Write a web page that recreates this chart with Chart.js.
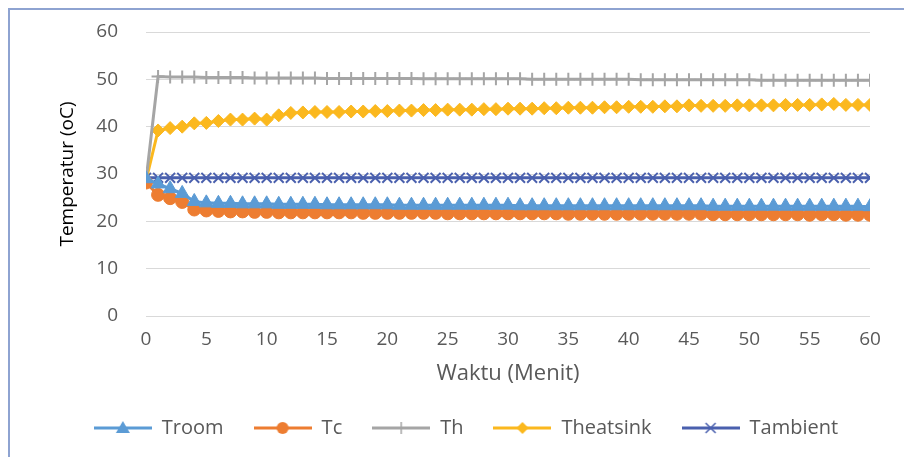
<!DOCTYPE html>
<html>
<head>
<meta charset="utf-8">
<script src="https://cdn.jsdelivr.net/npm/chart.js@4/dist/chart.umd.min.js"></script>
<style>
    html, body { margin: 0; padding: 0; background: #fff; }
    #wrap { width: 904px; height: 457px; position: relative; }
</style>
</head>
<body>
<div id="wrap"><canvas id="chart"></canvas></div>
<script>
// Time axis (minutes)
const minutes = [
    0, 1, 2, 3, 4, 5, 6, 7, 8, 9,
    10, 11, 12, 13, 14, 15, 16, 17, 18, 19,
    20, 21, 22, 23, 24, 25, 26, 27, 28, 29,
    30, 31, 32, 33, 34, 35, 36, 37, 38, 39,
    40, 41, 42, 43, 44, 45, 46, 47, 48, 49,
    50, 51, 52, 53, 54, 55, 56, 57, 58, 59,
    60
];
const xTicks = [0, 5, 10, 15, 20, 25, 30, 35, 40, 45, 50, 55, 60];
const yTicks = [0, 10, 20, 30, 40, 50, 60];

// Series values (deg C)
const troom = [
    29.0, 27.9, 26.9, 25.9, 24.2, 23.9, 23.8, 23.8, 23.7, 23.7,
    23.7, 23.6, 23.6, 23.6, 23.6, 23.5, 23.5, 23.5, 23.5, 23.5,
    23.5, 23.4, 23.4, 23.4, 23.4, 23.4, 23.4, 23.4, 23.4, 23.4,
    23.4, 23.3, 23.3, 23.3, 23.3, 23.3, 23.3, 23.3, 23.3, 23.3,
    23.3, 23.3, 23.3, 23.3, 23.3, 23.3, 23.3, 23.2, 23.2, 23.2,
    23.2, 23.2, 23.2, 23.2, 23.2, 23.2, 23.2, 23.2, 23.2, 23.2,
    23.1
];
const tc = [
    28.2, 25.6, 24.9, 24.1, 22.5, 22.3, 22.2, 22.1, 22.1, 22.0,
    22.0, 21.9, 21.9, 21.9, 21.9, 21.9, 21.9, 21.9, 21.8, 21.8,
    21.8, 21.8, 21.8, 21.8, 21.8, 21.7, 21.7, 21.7, 21.7, 21.7,
    21.7, 21.7, 21.7, 21.7, 21.7, 21.6, 21.6, 21.6, 21.6, 21.6,
    21.6, 21.6, 21.6, 21.6, 21.6, 21.6, 21.6, 21.5, 21.5, 21.5,
    21.5, 21.5, 21.5, 21.5, 21.5, 21.4, 21.5, 21.5, 21.4, 21.4,
    21.4
];
const th = [
    28.6, 50.6, 50.5, 50.5, 50.5, 50.4, 50.4, 50.4, 50.4, 50.3,
    50.3, 50.3, 50.3, 50.3, 50.3, 50.2, 50.2, 50.2, 50.2, 50.2,
    50.2, 50.2, 50.2, 50.1, 50.1, 50.1, 50.1, 50.1, 50.1, 50.1,
    50.1, 50.1, 50.0, 50.0, 50.0, 50.0, 50.0, 50.0, 50.0, 50.0,
    50.0, 49.9, 49.9, 49.9, 49.9, 49.9, 49.9, 49.9, 49.9, 49.9,
    49.9, 49.8, 49.8, 49.8, 49.8, 49.8, 49.8, 49.8, 49.8, 49.8,
    49.8
];
const theatsink = [
    28.6, 39.2, 39.7, 40.0, 40.7, 40.8, 41.2, 41.5, 41.5, 41.7,
    41.5, 42.4, 42.9, 43.0, 43.1, 43.1, 43.1, 43.2, 43.2, 43.3,
    43.3, 43.4, 43.4, 43.5, 43.5, 43.6, 43.6, 43.6, 43.7, 43.7,
    43.8, 43.8, 43.8, 43.9, 43.9, 44.0, 44.0, 44.0, 44.1, 44.1,
    44.2, 44.2, 44.2, 44.3, 44.3, 44.5, 44.4, 44.4, 44.4, 44.5,
    44.5, 44.5, 44.5, 44.6, 44.6, 44.6, 44.7, 44.8, 44.6, 44.6,
    44.6
];
const tambient = [
    29.2, 29.2, 29.2, 29.2, 29.2, 29.2, 29.2, 29.2, 29.2, 29.2,
    29.2, 29.2, 29.2, 29.2, 29.2, 29.2, 29.2, 29.2, 29.2, 29.2,
    29.2, 29.2, 29.2, 29.2, 29.2, 29.2, 29.2, 29.2, 29.2, 29.2,
    29.2, 29.2, 29.2, 29.2, 29.2, 29.2, 29.2, 29.2, 29.2, 29.2,
    29.2, 29.2, 29.2, 29.2, 29.2, 29.2, 29.2, 29.2, 29.2, 29.2,
    29.2, 29.2, 29.2, 29.2, 29.2, 29.2, 29.2, 29.2, 29.2, 29.2,
    29.2
];

const seriesNames = ['Troom', 'Tc', 'Th', 'Theatsink', 'Tambient'];
const seriesValues = [troom, tc, th, theatsink, tambient];
const seriesColors = ['#5B9BD5', '#ED7D31', '#A5A5A5', '#FBB81E', '#4A60AE'];
const seriesMarkers = ['triangle', 'circle', 'cross', 'rectRot', 'crossRot'];
const markerRadius = [8, 6.5, 6.5, 6.5, 7];

const textColor = '#595959';
const fontFamily = '"Open Sans", Lato, sans-serif';

// Small line+marker swatch for the legend (like Excel's)
function legendSwatch(color, marker) {
    const c = document.createElement('canvas');
    c.width = 58; c.height = 16;
    const g = c.getContext('2d');
    g.strokeStyle = color; g.fillStyle = color; g.lineWidth = 3;
    g.beginPath(); g.moveTo(0, 8); g.lineTo(58, 8); g.stroke();
    const cx = 29, cy = 8;
    g.lineWidth = 1.5;
    g.beginPath();
    if (marker === 'triangle') {
        g.moveTo(cx, cy - 7); g.lineTo(cx + 7, cy + 5); g.lineTo(cx - 7, cy + 5); g.closePath(); g.fill();
    } else if (marker === 'circle') {
        g.arc(cx, cy, 6, 0, Math.PI * 2); g.fill();
    } else if (marker === 'cross') {
        g.moveTo(cx, cy - 6); g.lineTo(cx, cy + 6); g.stroke();
    } else if (marker === 'rectRot') {
        g.moveTo(cx, cy - 6); g.lineTo(cx + 6, cy); g.lineTo(cx, cy + 6); g.lineTo(cx - 6, cy); g.closePath(); g.fill();
    } else {
        g.moveTo(cx - 5, cy - 5); g.lineTo(cx + 5, cy + 5);
        g.moveTo(cx + 5, cy - 5); g.lineTo(cx - 5, cy + 5); g.stroke();
    }
    return c;
}

const frame = {
    id: 'frame',
    beforeDraw(chart) {
        const g = chart.ctx;
        g.save();
        g.fillStyle = '#fff';
        g.fillRect(0, 0, chart.width, chart.height);
        g.strokeStyle = '#8EA3D1';
        g.lineWidth = 2;
        g.beginPath();
        g.moveTo(9, chart.height); g.lineTo(9, 9); g.lineTo(chart.width, 9);
        g.stroke();
        g.restore();
    }
};

const datasets = seriesNames.map((name, i) => ({
    label: name,
    data: minutes.map((m, j) => ({ x: m, y: seriesValues[i][j] })),
    borderColor: seriesColors[i],
    backgroundColor: seriesColors[i],
    borderWidth: 3,
    pointStyle: seriesMarkers[i],
    pointRadius: markerRadius[i],
    pointBorderWidth: (seriesMarkers[i] === 'cross' || seriesMarkers[i] === 'crossRot') ? 2 : 1,
    pointBorderColor: seriesColors[i],
    pointBackgroundColor: seriesColors[i],
    tension: 0
}));

new Chart(document.getElementById('chart'), {
    type: 'line',
    data: { datasets: datasets },
    plugins: [frame],
    options: {
        responsive: true,
        maintainAspectRatio: false,
        animation: false,
        layout: { padding: { left: 62, right: 34, top: 32, bottom: 9 } },
        scales: {
            x: {
                type: 'linear',
                min: 0, max: 60,
                afterBuildTicks: s => { s.ticks = xTicks.map(v => ({ value: v })); },
                afterFit: s => { s.height = 72; },
                grid: { display: false, drawTicks: false },
                border: { display: false },
                ticks: { color: textColor, font: { family: fontFamily, size: 19 }, padding: 12, maxRotation: 0 },
                title: { display: true, text: 'Waktu (Menit)', color: textColor,
                         font: { family: fontFamily, size: 22 }, padding: { top: 0, bottom: 1 } }
            },
            y: {
                min: 0, max: 60,
                afterBuildTicks: s => { s.ticks = yTicks.map(v => ({ value: v })); },
                afterFit: s => { s.width = 84; },
                grid: { color: '#D9D9D9', lineWidth: 1, drawTicks: true, tickLength: 24, tickColor: 'rgba(0,0,0,0)' },
                border: { display: false },
                ticks: { color: textColor, font: { family: fontFamily, size: 19 }, padding: 4 },
                title: { display: true, text: 'Temperatur (oC)', color: '#000',
                         font: { family: fontFamily, size: 19 }, padding: { top: -6, bottom: 0 } }
            }
        },
        plugins: {
            legend: {
                position: 'bottom',
                labels: {
                    usePointStyle: true,
                    pointStyleWidth: 58,
                    padding: 30,
                    color: textColor,
                    font: { family: fontFamily, size: 20 },
                    generateLabels: chart => chart.data.datasets.map((ds, i) => ({
                        text: ds.label,
                        pointStyle: legendSwatch(seriesColors[i], seriesMarkers[i]),
                        fillStyle: seriesColors[i],
                        strokeStyle: seriesColors[i],
                        lineWidth: 0,
                        fontColor: textColor,
                        hidden: false,
                        datasetIndex: i
                    }))
                }
            },
            tooltip: { enabled: false }
        }
    }
});
</script>
</body>
</html>
